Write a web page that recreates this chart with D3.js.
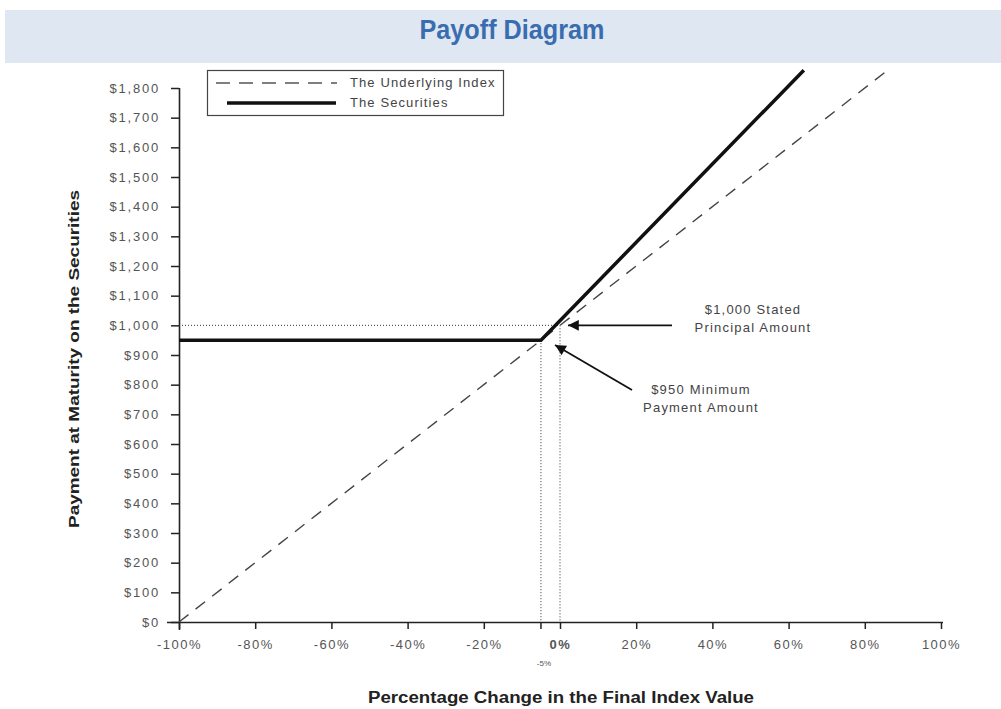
<!DOCTYPE html>
<html lang="en">
  <head>
    <meta charset="utf-8"/>
    <title>Payoff Diagram</title>
    <script src="https://d3js.org/d3.v7.min.js"></script>
    <style>
      body { margin: 0; background: #fff; }
      svg { display: block; font-family: "Liberation Sans", Arial, sans-serif; }
    </style>
  </head>
  <body>
    <div id="chart"></div>
    <script>
    // data
    var xTicks = [-100, -80, -60, -40, -20, 0, 20, 40, 60, 80, 100];
    var yTicks = [0, 100, 200, 300, 400, 500, 600, 700, 800, 900, 1000, 1100, 1200, 1300, 1400, 1500, 1600, 1700, 1800];
    var underlyingPct = [-100, 0, 86];
    var underlyingVal = [0, 1000, 1860];
    var securitiesPct = [-100, -5, 64];
    var securitiesVal = [950, 950, 1860];
    var principal = 1000;
    var minPayment = 950;
    var bufferPct = -5;

    var width = 1001, height = 709;
    var svg = d3.select("#chart").append("svg")
        .attr("width", width)
        .attr("height", height);

    // title band
    svg.append("rect")
        .attr("x", 5).attr("y", 10)
        .attr("width", 996).attr("height", 53)
        .attr("fill", "#dfe8f2");
    svg.append("text")
        .attr("x", 512).attr("y", 32)
        .attr("text-anchor", "middle")
        .attr("dominant-baseline", "middle")
        .attr("textLength", 185).attr("lengthAdjust", "spacingAndGlyphs")
        .style("font-weight", "bold")
        .style("font-size", "27px")
        .attr("fill", "#3a6db0")
        .text("Payoff Diagram");

    var x = d3.scaleLinear().domain([-100, 100]).range([179, 941]);
    var y = d3.scaleLinear().domain([0, 1800]).range([622, 88]);
    var fmtDollar = d3.format("$,");

    // x axis
    var xAxis = svg.append("g")
        .attr("transform", "translate(0," + y(0) + ")")
        .call(d3.axisBottom(x).tickValues(xTicks).tickSize(7).tickPadding(11)
          .tickFormat(function(d) { return d + "%"; }));
    xAxis.select(".domain").attr("d", "M167,0.5H943").attr("stroke", "#222").attr("stroke-width", 1.6);
    xAxis.selectAll(".tick line").attr("stroke", "#222").attr("stroke-width", 1.5);
    xAxis.selectAll(".tick text")
        .attr("fill", "#555").style("font-size", "13px").style("letter-spacing", "1.5px")
        .style("font-weight", function(d) { return d === 0 ? "bold" : "normal"; });
    xAxis.append("line")
        .attr("x1", x(bufferPct)).attr("x2", x(bufferPct)).attr("y1", 0).attr("y2", 7)
        .attr("stroke", "#222").attr("stroke-width", 1.5);

    // y axis
    var yAxis = svg.append("g")
        .attr("transform", "translate(" + x(-100) + ",0)")
        .call(d3.axisLeft(y).tickValues(yTicks).tickSize(8).tickPadding(11)
          .tickFormat(function(d) { return fmtDollar(d); }));
    yAxis.select(".domain").attr("d", "M0.5,630V88").attr("stroke", "#222").attr("stroke-width", 1.6);
    yAxis.selectAll(".tick line").attr("stroke", "#222").attr("stroke-width", 1.5);
    yAxis.selectAll(".tick text").attr("fill", "#555").style("font-size", "13px").style("letter-spacing", "1.8px");

    // -5% label
    svg.append("text")
        .attr("x", x(bufferPct) + 3).attr("y", 666)
        .attr("text-anchor", "middle")
        .attr("fill", "#555").style("font-size", "8px")
        .text(bufferPct + "%");

    // axis titles
    svg.append("text")
        .attr("x", 561).attr("y", 703)
        .attr("text-anchor", "middle")
        .attr("textLength", 386).attr("lengthAdjust", "spacingAndGlyphs")
        .style("font-weight", "bold").style("font-size", "16px")
        .attr("fill", "#222")
        .text("Percentage Change in the Final Index Value");
    svg.append("text")
        .attr("transform", "translate(79," + 359 + ") rotate(-90)")
        .attr("text-anchor", "middle")
        .attr("textLength", 338).attr("lengthAdjust", "spacingAndGlyphs")
        .style("font-weight", "bold").style("font-size", "15px")
        .attr("fill", "#222")
        .text("Payment at Maturity on the Securities");

    // dotted guides
    var dotted = svg.append("g").attr("stroke", "#333").attr("stroke-width", 1).attr("stroke-dasharray", "1,2").attr("fill", "none");
    dotted.append("line").attr("x1", x(-100)).attr("x2", x(0)).attr("y1", y(principal)).attr("y2", y(principal));
    dotted.append("line").attr("x1", x(bufferPct)).attr("x2", x(bufferPct)).attr("y1", y(minPayment)).attr("y2", y(0));
    dotted.append("line").attr("x1", x(0)).attr("x2", x(0)).attr("y1", y(principal)).attr("y2", y(0));

    var line = d3.line().x(function(d) { return x(d[0]); }).y(function(d) { return y(d[1]); });

    svg.append("path")
        .datum(d3.zip(underlyingPct, underlyingVal))
        .attr("d", line)
        .attr("fill", "none").attr("stroke", "#444")
        .attr("stroke-width", 1.4).attr("stroke-dasharray", "12,9");

    svg.append("path")
        .datum(d3.zip(securitiesPct, securitiesVal))
        .attr("d", line)
        .attr("fill", "none").attr("stroke", "#111")
        .attr("stroke-width", 3.5);

    // arrows
    var defs = svg.append("defs");
    defs.append("marker")
        .attr("id", "arrow").attr("viewBox", "0 0 10 10")
        .attr("refX", 10).attr("refY", 5)
        .attr("markerWidth", 7).attr("markerHeight", 6)
        .attr("markerUnits", "strokeWidth")
        .attr("orient", "auto")
        .append("path").attr("d", "M0,0L10,5L0,10z").attr("fill", "#111");

    svg.append("line")
        .attr("x1", 672).attr("y1", y(principal)).attr("x2", 568).attr("y2", y(principal))
        .attr("stroke", "#111").attr("stroke-width", 1.8).attr("marker-end", "url(#arrow)");
    svg.append("line")
        .attr("x1", 632).attr("y1", 390).attr("x2", 555).attr("y2", 345)
        .attr("stroke", "#111").attr("stroke-width", 1.8).attr("marker-end", "url(#arrow)");

    var notes = [
      { x: 753, y: 314, text: "$1,000 Stated" },
      { x: 753, y: 332, text: "Principal Amount" },
      { x: 701, y: 394, text: "$950 Minimum" },
      { x: 701, y: 412, text: "Payment Amount" }
    ];
    svg.selectAll(".note").data(notes).enter().append("text")
        .attr("class", "note")
        .attr("x", function(d) { return d.x; })
        .attr("y", function(d) { return d.y; })
        .attr("text-anchor", "middle")
        .attr("fill", "#444").style("font-size", "13px").style("letter-spacing", "1.2px")
        .text(function(d) { return d.text; });

    // legend
    var legend = svg.append("g");
    legend.append("rect")
        .attr("x", 207.5).attr("y", 70.5).attr("width", 296).attr("height", 45)
        .attr("fill", "#fff").attr("stroke", "#444").attr("stroke-width", 1.2);
    legend.append("line").attr("x1", 216).attr("x2", 337).attr("y1", 83).attr("y2", 83)
        .attr("stroke", "#555").attr("stroke-width", 1.4).attr("stroke-dasharray", "14,9");
    legend.append("line").attr("x1", 227).attr("x2", 336).attr("y1", 103).attr("y2", 103)
        .attr("stroke", "#111").attr("stroke-width", 3.5);
    legend.append("text").attr("x", 350).attr("y", 87)
        .attr("fill", "#444").style("font-size", "13px").style("letter-spacing", "1.1px").text("The Underlying Index");
    legend.append("text").attr("x", 350).attr("y", 107)
        .attr("fill", "#444").style("font-size", "13px").style("letter-spacing", "1.1px").text("The Securities");
    </script>
  </body>
</html>
